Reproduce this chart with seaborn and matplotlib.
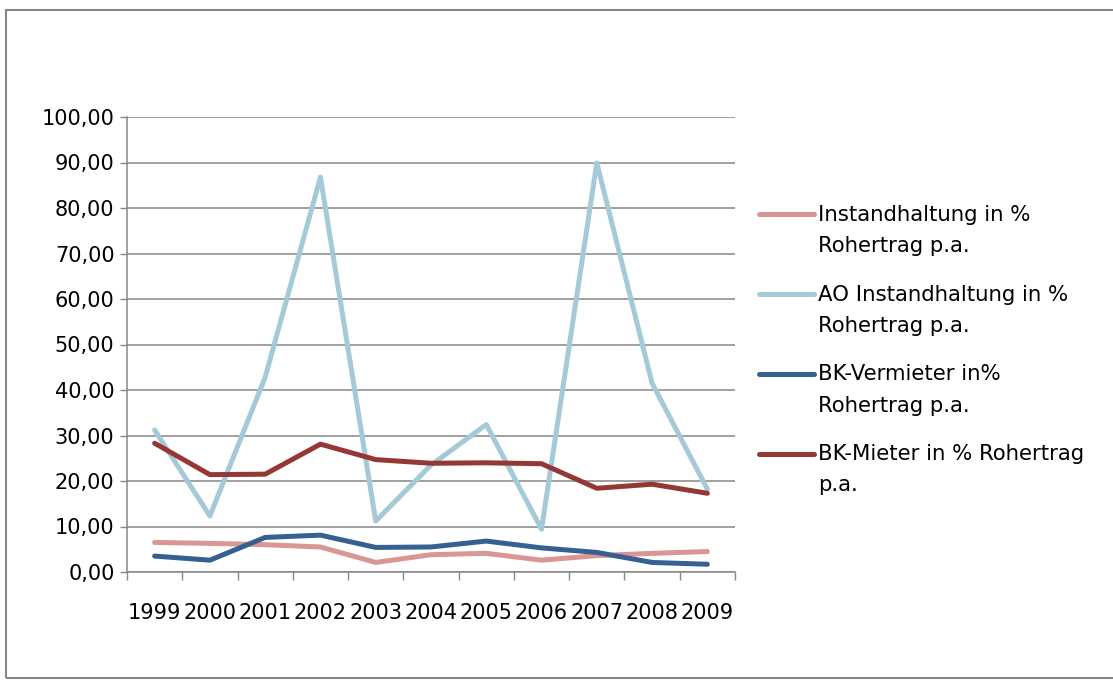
import pandas as pd
import matplotlib.pyplot as plt
import seaborn as sns
from matplotlib.patches import Rectangle
from matplotlib.lines import Line2D
from matplotlib.legend_handler import HandlerLine2D

years = ["1999", "2000", "2001", "2002", "2003", "2004", "2005", "2006", "2007", "2008", "2009"]
instandhaltung = [6.5, 6.3, 6.0, 5.5, 2.1, 3.8, 4.1, 2.6, 3.6, 4.1, 4.5]
ao_instandhaltung = [31.2, 12.3, 42.8, 86.8, 11.2, 23.5, 32.4, 9.4, 89.9, 41.5, 18.2]
bk_vermieter = [3.5, 2.6, 7.6, 8.1, 5.4, 5.5, 6.8, 5.3, 4.3, 2.1, 1.7]
bk_mieter = [28.3, 21.4, 21.5, 28.1, 24.7, 23.9, 24.0, 23.8, 18.4, 19.3, 17.3]

names = ["Instandhaltung in %\nRohertrag p.a.",
         "AO Instandhaltung in %\nRohertrag p.a.",
         "BK-Vermieter in%\nRohertrag p.a.",
         "BK-Mieter in % Rohertrag\np.a."]
colors = ["#D99694", "#A5CAD7", "#376092", "#953735"]

rows = []
for name, vals in zip(names, [instandhaltung, ao_instandhaltung, bk_vermieter, bk_mieter]):
    for i, v in enumerate(vals):
        rows.append({"idx": i, "wert": v, "serie": name})
df = pd.DataFrame(rows)


# legend line sits next to the first text line, like Excel does it
class TopLine(HandlerLine2D):
    def create_artists(self, legend, orig_handle, xdescent, ydescent, width, height, fontsize, trans):
        arts = super().create_artists(legend, orig_handle, xdescent, ydescent, width, height, fontsize, trans)
        for a in arts:
            a.set_ydata(a.get_ydata() + 12)
        return arts


sns.set_theme(style="white")
plt.rcParams["font.family"] = ["DejaVu Sans"]
plt.rcParams["text.color"] = "black"

fig = plt.figure(figsize=(11.13, 6.82), dpi=100)
ax = fig.add_axes([127 / 1113, 1 - 572 / 682, 608 / 1113, 455 / 682])

# outer chart frame
fig.add_artist(Rectangle((6 / 1113, 1 - 678 / 682), 1.2, 668 / 682, transform=fig.transFigure,
                         fill=False, edgecolor="#868686", lw=1.5, clip_on=False))

sns.lineplot(data=df, x="idx", y="wert", hue="serie", palette=colors, hue_order=names,
             lw=3.6, ax=ax, legend=False, solid_joinstyle="round", solid_capstyle="round")

ax.set_xlim(-0.5, 10.5)
ax.set_ylim(0, 100)
ax.set_yticks(range(0, 101, 10))
ax.set_yticklabels([f"{v},00" for v in range(0, 101, 10)])
ax.set_xticks(range(len(years)))
ax.set_xticklabels(years)
ax.set_xticks([i - 0.5 for i in range(len(years) + 1)], minor=True)
ax.tick_params(axis="x", which="major", length=0, pad=22, labelsize=15, labelcolor="black")
ax.tick_params(axis="x", which="minor", length=6, width=1, color="#868686", bottom=True)
ax.tick_params(axis="y", length=5, width=1, color="#868686", pad=4, labelsize=15,
               labelcolor="black", left=True)
ax.grid(axis="y", color="#868686", lw=1.1)
ax.set_xlabel("")
ax.set_ylabel("")
for s in ["top", "right"]:
    ax.spines[s].set_visible(False)
for s in ["left", "bottom"]:
    ax.spines[s].set_color("#868686")
    ax.spines[s].set_linewidth(1.1)

handles = ax.get_lines()[:4]
leg = fig.legend(handles, names, loc="upper left", bbox_to_anchor=(748 / 1113, 1 - 194 / 682),
                 frameon=False, fontsize=15.3, handlelength=2.6, handletextpad=0.2,
                 labelspacing=1.35, borderpad=0, handler_map={Line2D: TopLine()})
for t in leg.get_texts():
    t.set_linespacing(1.7)
    t.set_color("black")

fig.savefig("out.png", dpi=100)
